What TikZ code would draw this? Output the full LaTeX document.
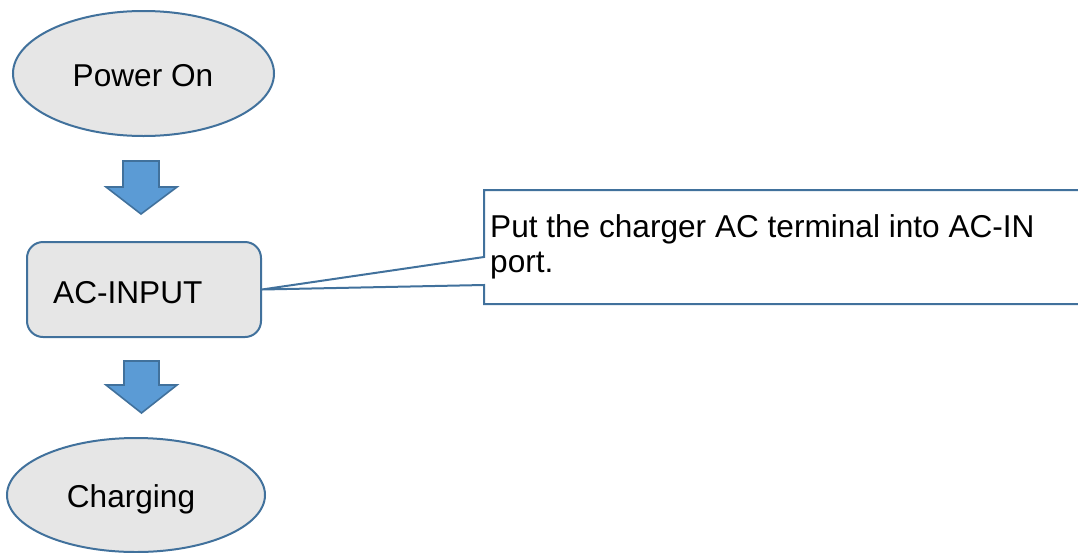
\documentclass[tikz,border=0pt]{standalone}
\usepackage{fontspec}
\setmainfont{Liberation Sans}
\usetikzlibrary{shapes.geometric}
\definecolor{edge}{HTML}{41719C}
\definecolor{panel}{HTML}{E6E6E6}
\definecolor{arrowfill}{HTML}{5B9BD5}
\tikzset{
  outline/.style={draw=edge, line width=2pt},
  terminal/.style={outline, ellipse, fill=panel, inner sep=0pt},
  stepbox/.style={outline, rounded corners=16pt, fill=panel, inner sep=0pt},
  blockarrow/.style={draw=edge, fill=arrowfill, line width=1.6pt, line join=miter},
  label/.style={inner sep=0pt, font=\fontsize{31.6}{35}\selectfont},
}
\begin{document}
\begin{tikzpicture}[x=1pt, y=-1pt]
\useasboundingbox (0,0) rectangle (1078,552);

% flow nodes
\node[terminal, minimum width=261pt, minimum height=125pt] (on) at (143.5,73.5) {};
\node[label, anchor=base] (ontext) at (143,86) {Power On};

\node[stepbox, minimum width=234pt, minimum height=95pt] (ac) at (144,289.5) {};
\node[label, anchor=base west] (actext) at (53,303) {AC-INPUT};

\node[terminal, minimum width=258pt, minimum height=114pt] (chg) at (136,495) {};
\node[label, anchor=base] (chgtext) at (131,507) {Charging};

% block arrows between the steps
\coordinate (a1) at (141,161);
\draw[blockarrow] (a1) ++(-18,0) -- ++(36,0) -- ++(0,26) -- ++(18,0)
  -- (141,214) -- (106,187) -- ++(17,0) -- cycle;
\coordinate (a2) at (141.5,361);
\draw[blockarrow] (a2) ++(-17.5,0) -- ++(35,0) -- ++(0,24) -- ++(18,0)
  -- (141.5,413) -- (106,385) -- ++(18,0) -- cycle;

% callout attached to the AC-INPUT box
\coordinate (tip) at (ac.east);
\draw[outline, fill=white] (1090,190) -- (484,190) -- (484,257) -- (tip)
  -- (484,285) -- (484,304) -- (1090,304);
\node[label, anchor=base west] (note) at (490,237)
  {\vtop{\hbox{Put the charger AC terminal into AC-IN}\hbox{port.}}};
\end{tikzpicture}
\end{document}
